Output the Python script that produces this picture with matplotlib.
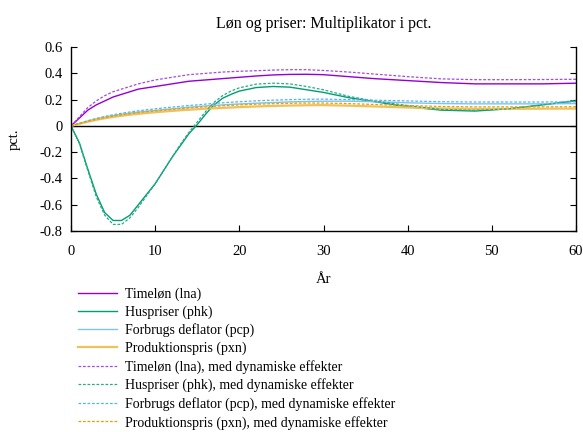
import matplotlib
matplotlib.use("Agg")
import matplotlib.pyplot as plt

plt.rcParams["font.family"] = ["Liberation Serif", "DejaVu Serif"]

# Multiplikatorer i pct. (afvigelse fra grundforløb), år efter stød
years = [0, 1, 2, 3, 4, 5, 6, 7, 8, 9, 10, 11, 12, 13, 14, 15, 16, 17, 18, 19,
         20, 22, 24, 26, 28, 30, 33, 36, 40, 44, 48, 52, 56, 60]

lna = [0, 0.06, 0.12, 0.16, 0.19, 0.22, 0.24, 0.26, 0.28, 0.29, 0.30, 0.31, 0.32,
       0.33, 0.34, 0.345, 0.35, 0.355, 0.36, 0.365, 0.37, 0.38, 0.388, 0.392,
       0.393, 0.39, 0.375, 0.36, 0.345, 0.33, 0.32, 0.32, 0.32, 0.325]
phk = [0, -0.13, -0.33, -0.52, -0.66, -0.72, -0.72, -0.68, -0.60, -0.52, -0.44,
       -0.34, -0.24, -0.15, -0.06, 0.01, 0.09, 0.16, 0.21, 0.24, 0.265, 0.292,
       0.30, 0.295, 0.275, 0.255, 0.215, 0.185, 0.145, 0.12, 0.113, 0.13, 0.16, 0.19]
pcp = [0, 0.018, 0.036, 0.052, 0.066, 0.078, 0.088, 0.097, 0.105, 0.112, 0.118,
       0.124, 0.13, 0.136, 0.142, 0.147, 0.152, 0.156, 0.16, 0.164, 0.167, 0.173,
       0.178, 0.183, 0.186, 0.188, 0.188, 0.184, 0.176, 0.17, 0.168, 0.168, 0.168, 0.17]
pxn = [0, 0.016, 0.032, 0.046, 0.058, 0.068, 0.077, 0.085, 0.092, 0.098, 0.104,
       0.109, 0.114, 0.119, 0.123, 0.127, 0.131, 0.134, 0.137, 0.14, 0.143, 0.148,
       0.152, 0.155, 0.157, 0.158, 0.154, 0.148, 0.14, 0.133, 0.13, 0.13, 0.131, 0.132]

# med dynamiske effekter
lna_dyn = [0, 0.07, 0.14, 0.19, 0.23, 0.26, 0.28, 0.30, 0.32, 0.335, 0.35, 0.36,
           0.37, 0.38, 0.39, 0.395, 0.40, 0.405, 0.41, 0.413, 0.416, 0.42, 0.425,
           0.428, 0.428, 0.422, 0.41, 0.395, 0.375, 0.358, 0.352, 0.352, 0.353, 0.355]
phk_dyn = [0, -0.135, -0.34, -0.54, -0.68, -0.75, -0.75, -0.70, -0.62, -0.53, -0.44,
           -0.34, -0.24, -0.14, -0.05, 0.03, 0.11, 0.18, 0.23, 0.265, 0.29, 0.318,
           0.325, 0.32, 0.30, 0.275, 0.225, 0.19, 0.155, 0.125, 0.118, 0.13, 0.16, 0.195]
pcp_dyn = [0, 0.02, 0.04, 0.057, 0.072, 0.085, 0.096, 0.106, 0.115, 0.123, 0.13,
           0.137, 0.143, 0.149, 0.155, 0.16, 0.166, 0.171, 0.176, 0.18, 0.184, 0.191,
           0.196, 0.2, 0.203, 0.204, 0.2, 0.196, 0.19, 0.184, 0.182, 0.182, 0.182, 0.183]
pxn_dyn = [0, 0.017, 0.034, 0.05, 0.063, 0.074, 0.084, 0.093, 0.101, 0.108, 0.114,
           0.12, 0.126, 0.131, 0.136, 0.141, 0.145, 0.149, 0.153, 0.156, 0.16, 0.165,
           0.169, 0.172, 0.174, 0.174, 0.17, 0.163, 0.155, 0.148, 0.145, 0.145, 0.145, 0.146]

labels = [
    "Timeløn (lna)",
    "Huspriser (phk)",
    "Forbrugs deflator (pcp)",
    "Produktionspris (pxn)",
    "Timeløn (lna), med dynamiske effekter",
    "Huspriser (phk), med dynamiske effekter",
    "Forbrugs deflator (pcp), med dynamiske effekter",
    "Produktionspris (pxn), med dynamiske effekter",
]

fig = plt.figure(figsize=(5.83, 4.32), dpi=100)
ax = fig.add_axes([0.1218, 0.4653, 0.8662, 0.4257])

ax.axhline(0, color="black", linewidth=1.0, zorder=1)

solid = [
    (lna, "#9400d3", 1.0),
    (phk, "#009e73", 1.0),
    (pcp, "#7fc3ee", 1.0),
    (pxn, "#f0c05a", 1.6),
]
dashed = [
    (lna_dyn, "#a64ae0"),
    (phk_dyn, "#2aaa85"),
    (pcp_dyn, "#56b4e9"),
    (pxn_dyn, "#e69f00"),
]

handles = []
for vals, color, lw in solid:
    h, = ax.plot(years, vals, color=color, linewidth=lw)
    handles.append(h)
for vals, color in dashed:
    h, = ax.plot(years, vals, color=color, linewidth=0.9, dashes=(2.2, 1.4))
    handles.append(h)

ax.set_xlim(0, 60)
ax.set_ylim(-0.8, 0.6)
ax.set_xticks([0, 10, 20, 30, 40, 50, 60])
ax.set_yticks([-0.8, -0.6, -0.4, -0.2, 0, 0.2, 0.4, 0.6])
ax.set_yticklabels(["-0.8", "-0.6", "-0.4", "-0.2", "0", "0.2", "0.4", "0.6"])
ax.tick_params(axis="both", direction="in", length=4, width=0.8, labelsize=10.5,
               right=True, top=False)
ax.tick_params(axis="x", pad=10)
ax.tick_params(axis="y", pad=6)
ax.spines["top"].set_visible(False)
for s in ["left", "bottom", "right"]:
    ax.spines[s].set_linewidth(1.0)

ax.set_title("Løn og priser: Multiplikator i pct.", fontsize=11.5, pad=14)
ax.set_xlabel("År", fontsize=10.5, labelpad=11)
ax.set_ylabel("pct.", fontsize=10.5, labelpad=14)

fig.legend(handles, labels, loc="upper left", bbox_to_anchor=(0.125, 0.348),
           frameon=False, fontsize=10, handlelength=2.75, handletextpad=0.58,
           labelspacing=0.33, borderaxespad=0)

fig.savefig("out.png", dpi=100)
